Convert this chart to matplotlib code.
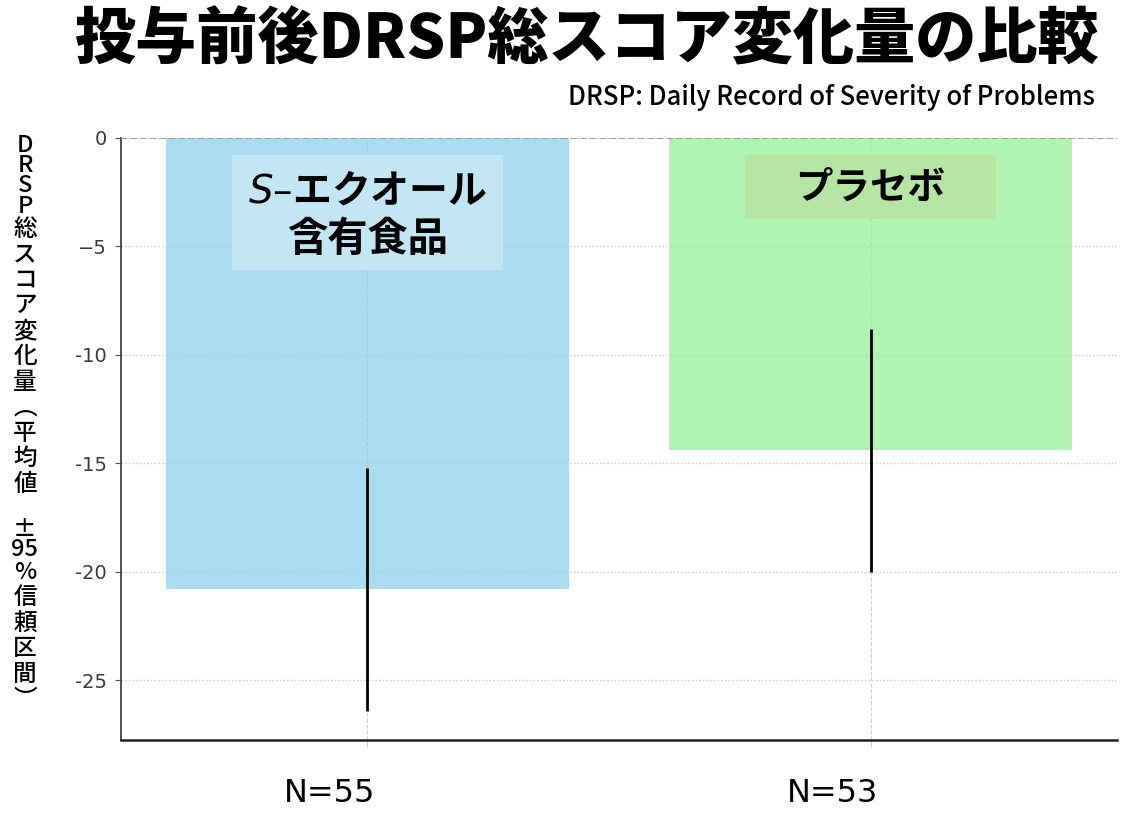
#!/usr/bin/env python3

# ======================= Libraries =======================
import numpy as np
import matplotlib.pyplot as plt
from matplotlib.patches import Rectangle
from matplotlib.transforms import blended_transform_factory

# ======================= Data =======================
# Groups (sample size labels) and mean change with 95% CI
groupLabels = ["N=55", "N=53"]
groupNames = ["$\\mathit{S}$\u2013エクオール\n含有食品", "プラセボ"]
meanChange = np.array([-20.8, -14.4])
ciLow = np.array([-26.4, -20.0])
ciHigh = np.array([-15.2, -8.8])

# Y axis ticks
yTicks = [0, -5, -10, -15, -20, -25]
yTickLabels = ["0", "\u22125", "-10", "-15", "-20", "-25"]

# Vertical y label, one item per row
yLabelParts = ["D", "R", "S", "P", "総", "ス", "コ", "ア", "変", "化", "量", "︵",
               "平", "均", "値", " ", "±", "95", "%", "信", "頼", "区", "間", "︶"]

titleText = "投与前後DRSP総スコア変化量の比較"
subtitleText = "DRSP: Daily Record of Severity of Problems"

# ======================= Style =======================
plt.rcParams["font.family"] = ["Noto Sans CJK JP", "DejaVu Sans"]
barColors = ["#87CEEB", "#90EE90"]
boxColors = ["#C3E6F4", "#B6E4A4"]

# ======================= Figure =======================
fig = plt.figure(figsize=(11.41, 8.16), dpi=100)
ax = fig.add_axes([0.106, 0.093, 0.873, 0.738])

xPos = np.arange(len(meanChange))

# Bars and error bars
ax.bar(xPos, meanChange, width=0.8, color=barColors, alpha=0.7, zorder=2)
ax.errorbar(xPos, meanChange, yerr=[meanChange - ciLow, ciHigh - meanChange],
            fmt="none", ecolor="black", elinewidth=2.0, capsize=0, zorder=3)

# Zero reference line
ax.axhline(0, color="#999999", linestyle="--", linewidth=1.3, zorder=4)

# Grid
ax.set_axisbelow(True)
ax.yaxis.grid(True, linestyle=":", color="#c8c8c8", linewidth=1.0)
ax.xaxis.grid(True, linestyle="--", color="#d0d0d0", linewidth=0.8)

# Limits and ticks
ax.set_xlim(-0.49, 1.49)
ax.set_ylim(-27.75, 0)
ax.set_yticks(yTicks)
ax.set_yticklabels(yTickLabels, fontfamily="DejaVu Sans", fontsize=14, color="#3a3a3a")
ax.set_xticks(xPos)
ax.tick_params(axis="x", labelbottom=False, length=5, color="#cccccc")
ax.tick_params(axis="y", length=4, pad=6, color="#555555")

# Spines
ax.spines["top"].set_visible(False)
ax.spines["right"].set_visible(False)
ax.spines["left"].set_color("#444444")
ax.spines["left"].set_linewidth(1.3)
ax.spines["bottom"].set_color("#222222")
ax.spines["bottom"].set_linewidth(1.8)

# Group name boxes inside the bars
boxWidths = [0.54, 0.50]
boxHeights = [5.3, 2.95]
for i in range(len(xPos)):
    ax.add_patch(Rectangle((xPos[i] - boxWidths[i] / 2, -0.78 - boxHeights[i]),
                           boxWidths[i], boxHeights[i], facecolor=boxColors[i],
                           edgecolor="none", zorder=3))

firstLine, secondLine = groupNames[0].split("\n")
ax.text(xPos[0], -2.49, firstLine, ha="center", va="center", fontsize=28,
        fontweight="bold", zorder=5)
ax.text(xPos[0], -4.70, secondLine, ha="center", va="center", fontsize=29,
        fontweight="bold", zorder=5)
ax.text(xPos[1], -2.26, groupNames[1], ha="center", va="center", fontsize=27,
        fontweight="bold", zorder=5)

# Sample size labels under the axis
labelTrans = blended_transform_factory(ax.transData, fig.transFigure)
for i in range(len(xPos)):
    ax.text(xPos[i] - 0.075, 0.028, groupLabels[i], transform=labelTrans,
            ha="center", va="center", fontsize=23, fontfamily="DejaVu Sans")

# Vertical y label drawn row by row
pitchPx = 25.5
cursorPx = 135.0
for part in yLabelParts:
    if part == " ":
        rowHeight = 0.9
    elif part == "±":
        rowHeight = 0.75
    elif part.isascii() and part != "%":
        rowHeight = 0.8
    else:
        rowHeight = 1.0
    centerPx = cursorPx + rowHeight * pitchPx / 2
    fig.text(25 / 1141, 1 - centerPx / 816, part, ha="center", va="center",
             fontsize=17, fontweight="medium")
    cursorPx += rowHeight * pitchPx

# Titles
fig.text(0.514, 0.951, titleText, ha="center", va="center", fontsize=44, fontweight="heavy")
fig.text(0.96, 0.881, subtitleText, ha="right", va="center", fontsize=18.5, fontweight="medium")

fig.savefig("out.png", dpi=100)
